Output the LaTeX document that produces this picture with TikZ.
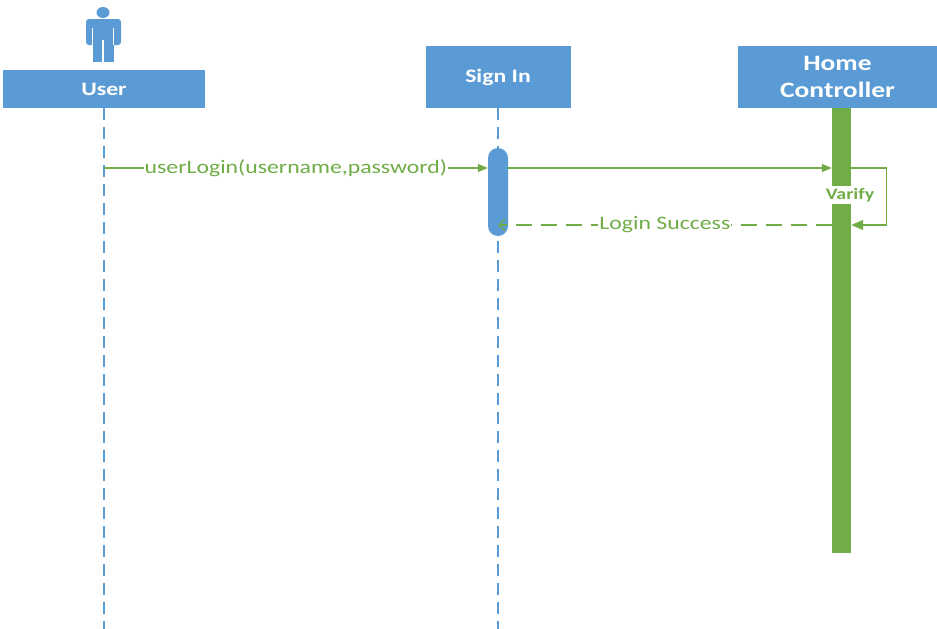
\documentclass[tikz,border=0pt]{standalone}
\usepackage{fontspec}
\setmainfont{Carlito}[FakeStretch=1.25]
\usetikzlibrary{arrows.meta}
\definecolor{boxblue}{HTML}{5B9BD5}
\definecolor{msggreen}{HTML}{70AD47}

\begin{document}
\begin{tikzpicture}[x=1pt,y=-1pt]

\tikzset{head box/.style={
    fill=boxblue, text=white, inner sep=0pt, align=center,
    font=\fontsize{19}{23}\selectfont\bfseries
  },
  life line/.style={boxblue, line width=1.3pt, dash pattern=on 12pt off 7pt},
  act bar/.style={inner sep=0pt, minimum width=#1}, act bar/.default=20pt,
  msg/.style={msggreen, line width=1.4pt, -{Triangle[length=10pt,width=8pt]}},
  reply msg/.style={msggreen, line width=1.4pt, dash pattern=on 16pt off 9pt,
    -{Straight Barb[length=6pt,width=12pt]}},
  msg label/.style={fill=white, text=msggreen, inner sep=1pt,
    font=\fontsize{19}{23}\selectfont}
}
\useasboundingbox (0,0) rectangle (937,629);
\coordinate (bottom) at (0,629);

% user icon
\fill[boxblue] (103,12.5) ellipse (6.5pt and 5.5pt);
\fill[boxblue, rounded corners=3pt] (86,19) rectangle (121,45);
\fill[boxblue] (92.5,40) rectangle (113.5,62);
\draw[white, line width=1.2pt] (92.3,28) -- (92.3,45) (113.7,28) -- (113.7,45)
  (103,40) -- (103,62);

% heads
\node[head box, minimum width=202pt, minimum height=38pt] (user) at (104,89) {User};
\node[head box, minimum width=145pt, minimum height=62pt] (signin) at (498,77) {Sign In};
\node[head box, minimum width=199pt, minimum height=62pt,
  font=\fontsize{22}{27}\selectfont\bfseries] (home) at (837.5,77) {Home\\Controller};

\draw[life line] (user.south) -- (user.south |- bottom);
\draw[life line] (signin.south) -- (signin.south |- bottom);

% activations
\node[act bar, fill=boxblue, minimum height=88pt, rounded corners=10pt] (signbar) at (498,192) {};
\node[act bar=19pt, fill=msggreen, minimum height=445pt, anchor=north] (homebar) at (841.5,108) {};

% messages
\coordinate (m1) at (104,168);
\coordinate (m2) at (0,225);
\draw[msg] (m1) -- (m1 -| signbar.west)
  node[msg label, midway] {userLogin(username,password)};
\draw[msg] (signbar.east |- m1) -- (homebar.west |- m1);
\draw[msg, -{Triangle[length=12pt,width=10pt]}] (homebar.east |- m1) -- ++(35,0) |- (homebar.east |- m2);
\node[msg label, inner sep=2pt, font=\fontsize{16}{19}\selectfont\bfseries] (varify) at (850,195) {Varify};
\draw[reply msg] (homebar.west |- m2) -- (signbar.center |- m2)
  node[msg label, midway] {Login Success};

\end{tikzpicture}
\end{document}
